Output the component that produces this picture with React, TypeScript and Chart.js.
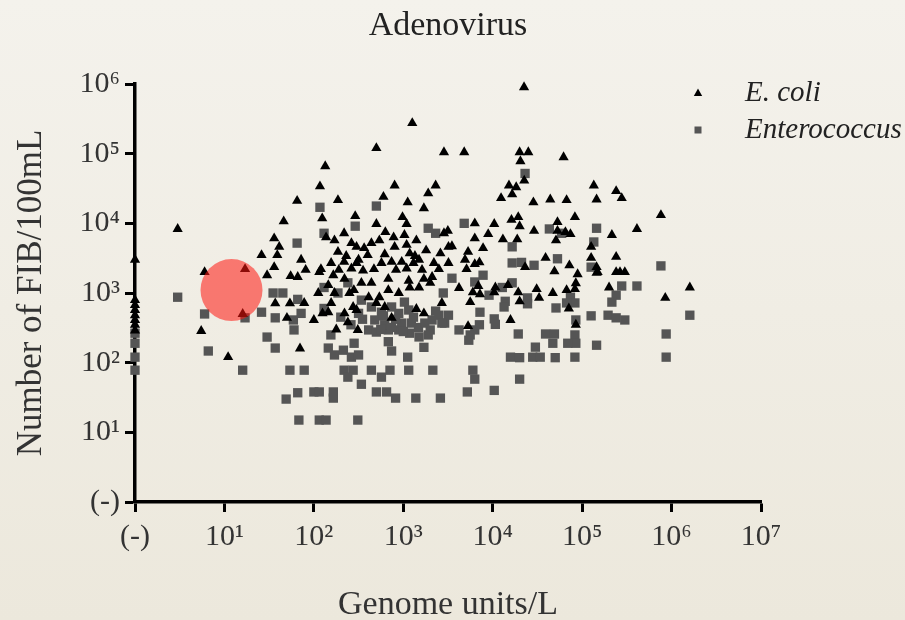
import { useEffect, useRef } from 'react';
import { Chart, registerables } from 'chart.js';

Chart.register(...registerables);

// ---------- texts ----------
const chartTitle = 'Adenovirus';
const xAxisTitle = 'Genome units/L';
const yAxisTitle = 'Number of FIB/100mL';
const seriesNames = ['E. coli', 'Enterococcus'];
const zeroLabel = '(-)';

// ---------- tick values (1 = "(-)", i.e. not detected) ----------
const xTickValues = [1, 10, 100, 1e3, 1e4, 1e5, 1e6, 1e7];
const yTickValues = [1, 10, 100, 1e3, 1e4, 1e5, 1e6];

// ---------- data: [genome units/L, FIB per 100 mL] ----------
const ecoliPoints: [number, number][] = [
  [1, 3000], [1, 790], [1, 670], [1, 570], [1, 480], [1, 410], [1, 350], [1, 290],
  [3, 8300], [6, 2000], [17, 2200], [16, 500], [5.5, 285], [11, 120], [30, 1800], [46, 10700],
  [65, 21000], [36, 6100], [41, 4600], [26, 3500], [39, 3500], [36, 2350], [55, 1750], [66, 1700],
  [37, 710], [54, 710], [50, 440], [70, 160], [72, 3000],
  [1260, 275000], [500, 120000], [2850, 105000], [134, 66000], [117, 34000], [800, 35000],
  [2300, 35000], [1900, 27000], [600, 24000], [186, 21500], [1120, 20000], [1700, 16500],
  [124, 11800], [290, 12700], [980, 12300], [500, 9800], [1090, 9800], [630, 7500], [218, 7200],
  [2850, 7200], [3150, 7800],
  [137, 6300], [170, 5700], [186, 3900], [263, 5200], [300, 4600], [316, 3000], [365, 4400],
  [440, 5200], [540, 5700], [570, 2700], [780, 6300], [800, 4600], [1030, 6800], [1090, 4900],
  [1180, 3700], [1400, 5700], [1500, 3000], [1800, 4100], [2200, 2700], [3200, 4600], [156, 2700],
  [218, 2800], [740, 2800], [960, 2800], [1300, 2700], [300, 2700],
  [100, 410], [240, 380], [220, 510], [300, 570], [740, 440], [1400, 590], [1700, 510], [2700, 720],
  [78, 720], [112, 1000], [156, 720], [145, 530], [410, 870], [540, 870], [680, 1100], [890, 1000],
  [1180, 1200], [1500, 1200], [2000, 1400], [2100, 1700], [1700, 1600], [1150, 1500], [680, 1600],
  [440, 1400], [340, 1400], [280, 1100], [220, 1600], [165, 1800], [115, 2000], [145, 1300],
  [170, 1000], [250, 1000], [500, 720], [620, 630], [275, 630], [178, 300], [310, 295],
  [81, 2150], [120, 2200], [190, 2150], [263, 2250], [355, 2100], [470, 2200], [830, 2150],
  [1090, 2250], [1620, 2150], [2500, 2200], [230, 3400], [400, 3500], [620, 3600], [1350, 3400],
  [2600, 3700], [125, 510],
  [22400, 900000], [4800, 105000], [20000, 105000], [25000, 105000], [20400, 78000], [62000, 89000],
  [22500, 41000], [15200, 35000], [18300, 33000], [16500, 26000], [12400, 23000], [28500, 20000],
  [44000, 22000], [67000, 21500], [135000, 35000], [145000, 22000], [83000, 12300], [53000, 10400],
  [19300, 12300], [16200, 11200], [20000, 9100], [10400, 9800], [6300, 10000], [8900, 7000],
  [6300, 6100], [29000, 7800], [53000, 7800], [65000, 7500], [74000, 7000], [51000, 5700],
  [13000, 5900], [18800, 5900], [3500, 4700], [7800, 4400], [5300, 3900], [4900, 3000], [7100, 2750],
  [3200, 2700], [23000, 2350], [39000, 3200], [72000, 2500], [126000, 4600], [126000, 3200],
  [145000, 2350], [5100, 2200], [6300, 2600], [49000, 2050], [89000, 1860], [145000, 1950],
  [4200, 1180], [6900, 1260], [6000, 1020], [7200, 960], [10700, 1200], [10400, 1020], [14800, 1300],
  [19300, 1020], [20000, 760], [31000, 1140], [33000, 850], [47000, 1000], [67000, 1100],
  [83000, 1140], [85000, 1380], [71000, 600], [85000, 350], [5600, 740], [15800, 410], [5300, 335],
  [240000, 29000], [277000, 23000], [760000, 13100], [410000, 8300], [215000, 6800], [240000, 3300],
  [149000, 2000], [240000, 2000], [265000, 2000], [300000, 2000], [1600000, 1200], [200000, 1200],
  [850000, 850],
];

const enterococcusPoints: [number, number][] = [
  [1, 265], [1, 190], [1, 120], [1, 78],
  [3, 870], [6, 500], [17, 440], [26, 530], [35, 1000], [45, 1000], [66, 810], [6.6, 147], [16, 78],
  [30, 233], [37, 162], [37, 440], [60, 295], [54, 78], [49, 30], [66, 37], [68, 15], [78, 78],
  [65, 5200], [117, 17000], [500, 17700], [290, 9100], [1900, 8500], [2300, 7200], [130, 7200],
  [115, 15], [137, 15], [310, 15], [100, 38], [115, 38], [165, 38], [165, 31], [500, 38], [650, 38],
  [820, 31], [1380, 31], [2600, 31], [340, 49], [218, 78], [275, 78], [440, 78], [710, 78],
  [1150, 78], [2140, 78], [570, 62], [240, 62],
  [145, 162], [170, 129], [214, 151], [263, 120], [316, 129], [282, 190], [680, 200], [740, 147],
  [1120, 120], [1700, 166],
  [155, 250], [410, 295], [500, 275], [680, 295], [890, 295], [1180, 265], [1500, 234], [1900, 250],
  [2000, 295],
  [130, 1200], [186, 1000], [240, 1400], [340, 790], [440, 630], [570, 530], [1030, 740], [740, 630],
  [72, 510], [59, 410], [2500, 480], [2900, 370], [2800, 1000],
  [316, 510], [480, 410], [620, 350], [890, 510], [960, 370], [1230, 370], [1150, 570], [1480, 320],
  [1740, 370], [2100, 410], [740, 320],
  [130, 600], [200, 450], [260, 350], [350, 420], [600, 470], [820, 420], [1300, 450], [2300, 550],
  [1000, 280], [560, 300],
  [23000, 52000], [4800, 10000], [43000, 8300], [59000, 7200], [145000, 8500], [135000, 5400],
  [16500, 4600], [16500, 2700], [21000, 2750], [29000, 2500], [53000, 3100], [126000, 2350],
  [3500, 1630], [7800, 1800], [6300, 1440], [9100, 930], [12800, 1200], [16500, 1400], [13800, 760],
  [24500, 850], [13400, 630], [24500, 700], [74000, 870], [83000, 720], [51000, 610], [67000, 720],
  [85000, 410], [83000, 250], [85000, 190], [69000, 190], [7200, 530], [3200, 480], [2700, 370],
  [10400, 425], [10700, 355], [7100, 350], [6300, 295], [4200, 295], [5600, 250], [5400, 210],
  [19300, 258], [39000, 258], [49000, 258], [47000, 190], [30000, 167], [28000, 120], [34000, 120],
  [15800, 120], [20000, 118], [50000, 118], [83000, 120], [145000, 178], [126000, 470], [6000, 78],
  [6300, 58], [20000, 58], [10400, 40], [5200, 38],
  [760000, 2450], [277000, 1260], [410000, 1260], [240000, 930], [215000, 740], [1600000, 480],
  [195000, 480], [240000, 440], [300000, 410], [870000, 258], [870000, 120],
];

// highlighted sample (red circle)
const highlightPoints: [number, number][] = [[12, 1100]];

// ---------- styles ----------
const SERIF = '"Liberation Serif", "Times New Roman", serif';
const ECOLI_COLOR = '#000000';
const ENTERO_COLOR = '#555555';
const HIGHLIGHT_COLOR = 'rgba(255, 22, 15, 0.55)';

const SUP = ['\u2070', '\u00B9', '\u00B2', '\u00B3', '\u2074', '\u2075', '\u2076', '\u2077'];
function tickLabel(v: number): string {
  if (v <= 1) return zeroLabel;
  const e = Math.round(Math.log10(v));
  return '10' + SUP[e];
}

const legendPlugin = {
  id: 'sideLegend',
  afterDraw(chart: any) {
    const ctx = chart.ctx as CanvasRenderingContext2D;
    const rows = [
      { name: seriesNames[0], color: ECOLI_COLOR, shape: 'triangle', y: 93 },
      { name: seriesNames[1], color: ENTERO_COLOR, shape: 'square', y: 130 },
    ];
    ctx.save();
    for (const r of rows) {
      const mx = 698;
      ctx.fillStyle = r.color;
      ctx.beginPath();
      if (r.shape === 'triangle') {
        ctx.moveTo(mx, r.y - 4.5);
        ctx.lineTo(mx + 4.2, r.y + 3);
        ctx.lineTo(mx - 4.2, r.y + 3);
        ctx.closePath();
      } else {
        ctx.rect(mx - 3.5, r.y - 3.5, 7, 7);
      }
      ctx.fill();
      ctx.fillStyle = '#222';
      ctx.font = 'italic 29px ' + SERIF;
      ctx.textAlign = 'left';
      ctx.textBaseline = 'middle';
      ctx.fillText(r.name, 745, r.y);
    }
    ctx.restore();
  },
};

function axisCommon(title: string, tickValues: number[], min: number, max: number) {
  return {
    type: 'logarithmic' as const,
    min,
    max,
    afterBuildTicks: (s: any) => {
      s.ticks = tickValues.map((v) => ({ value: v }));
    },
    ticks: {
      autoSkip: false,
      maxRotation: 0,
      color: '#333',
      font: { family: SERIF, size: 30, lineHeight: 1.2 },
      callback: (v: any) => tickLabel(Number(v)),
    },
    grid: {
      drawOnChartArea: false,
      drawTicks: true,
      tickLength: 10,
      tickWidth: 3,
      tickColor: '#000',
    },
    border: { display: true, color: '#000', width: 3.5 },
    title: {
      display: true,
      text: title,
      color: '#333',
      font: { family: SERIF, size: 35, lineHeight: 1 },
    },
  };
}

export default function App() {
  const ref = useRef<HTMLCanvasElement>(null);

  useEffect(() => {
    if (!ref.current) return;
    const xAxis: any = axisCommon(xAxisTitle, xTickValues, 1, 1e7);
    xAxis.afterFit = (s: any) => {
      s.height = 118;
    };
    xAxis.ticks.padding = 7;
    xAxis.title.font = { family: SERIF, size: 34, lineHeight: 0.85 };
    xAxis.title.padding = { top: 0, bottom: 0 };

    const yAxis: any = axisCommon(yAxisTitle, yTickValues, 1, 1e6);
    yAxis.afterFit = (s: any) => {
      s.width = 135;
    };
    yAxis.ticks.padding = 5;
    yAxis.title.padding = { top: 14, bottom: 0 };

    // empty right-hand box that keeps room for the legend beside the plot
    const rightSpace: any = {
      type: 'linear',
      position: 'right',
      display: true,
      grid: { display: false, drawTicks: false },
      border: { display: false },
      ticks: { display: false },
      afterFit: (s: any) => {
        s.width = 135;
      },
    };

    const chart = new Chart(ref.current, {
      type: 'scatter',
      data: {
        datasets: [
          {
            label: 'highlight',
            data: highlightPoints.map(([x, y]) => ({ x, y })),
            pointStyle: 'circle',
            pointRadius: 31,
            backgroundColor: HIGHLIGHT_COLOR,
            borderWidth: 0,
            clip: false,
          },
          {
            label: seriesNames[0],
            data: ecoliPoints.map(([x, y]) => ({ x, y })),
            pointStyle: 'triangle',
            pointRadius: 5.9,
            backgroundColor: ECOLI_COLOR,
            borderColor: ECOLI_COLOR,
            borderWidth: 0,
            clip: false,
          },
          {
            label: seriesNames[1],
            data: enterococcusPoints.map(([x, y]) => ({ x, y })),
            pointStyle: 'rect',
            pointRadius: 6.6,
            backgroundColor: ENTERO_COLOR,
            borderColor: ENTERO_COLOR,
            borderWidth: 0,
            clip: false,
          },
        ],
      } as any,
      options: {
        responsive: false,
        animation: false,
        devicePixelRatio: 1,
        events: [],
        layout: { padding: { left: 0, right: 9, top: 0, bottom: 0 } },
        plugins: {
          legend: { display: false },
          tooltip: { enabled: false },
          title: {
            display: true,
            text: chartTitle,
            color: '#222',
            font: { family: SERIF, size: 34, weight: 'normal', lineHeight: 1.2 },
            padding: { top: 6, bottom: 37.2 },
          },
        },
        scales: { x: xAxis, y: yAxis, side: rightSpace },
      } as any,
      plugins: [legendPlugin],
    });
    return () => chart.destroy();
  }, []);

  return (
    <div
      style={{
        position: 'absolute',
        left: 0,
        top: 0,
        width: 905,
        height: 620,
        background: 'linear-gradient(180deg, #f4f2ec 0%, #ece8dc 100%)',
      }}
    >
      <canvas ref={ref} width={905} height={620} style={{ display: 'block', width: 905, height: 620 }} />
    </div>
  );
}
